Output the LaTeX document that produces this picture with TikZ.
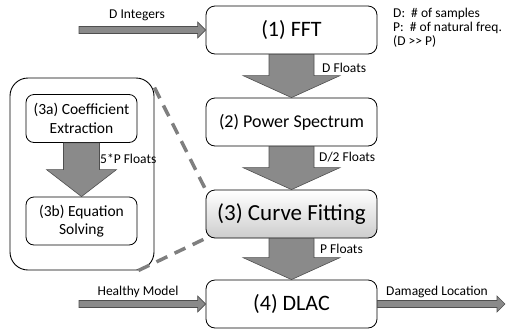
\documentclass[tikz,border=0pt]{standalone}
\usepackage{fontspec}
\setmainfont{Carlito}
\usepackage{tikz}
\usetikzlibrary{calc}
\definecolor{BlockGray}{HTML}{8A8A8A}
\definecolor{EdgeGray}{HTML}{4F4F4F}
\definecolor{DashGray}{HTML}{7F7F7F}
\definecolor{ShadeGray}{HTML}{CDCDCD}

\newcommand{\fatdown}[5]{%
  \draw[flow] ($(#1.south)+(-#3,0)$) -- ($(#2.north)+(-#3,-#5)$) -- ($(#2.north)+(-#4,-#5)$)
    -- (#2.north) -- ($(#2.north)+(#4,-#5)$) -- ($(#2.north)+(#3,-#5)$) -- ($(#1.south)+(#3,0)$) -- cycle;}
\newcommand{\fatright}[2]{%
  \draw[flow] ($(#1)+(0,-3.5)$) -- ($(#2)+(-8,-3.5)$) -- ($(#2)+(-8,-8)$)
    -- (#2) -- ($(#2)+(-8,8)$) -- ($(#2)+(-8,3.5)$) -- ($(#1)+(0,3.5)$) -- cycle;}

\begin{document}
\begin{tikzpicture}[
    x=1pt, y=-1pt,
    stage/.style={draw=black,fill=white,line width=0.8pt,rounded corners=9pt,minimum width=171pt,minimum height=48pt,font=\fontsize{22}{26}\selectfont},
    substage/.style={draw=black,fill=white,line width=0.8pt,rounded corners=8pt,minimum width=111pt,minimum height=48pt,align=center,font=\fontsize{15.5}{18.5}\selectfont},
    group/.style={draw=black,line width=0.9pt,rounded corners=18pt,minimum width=144pt,minimum height=192pt},
    tag/.style={font=\fontsize{13.5}{14}\selectfont,inner sep=0pt},
    flow/.style={draw=EdgeGray,fill=BlockGray,line width=0.6pt},
    link/.style={draw=DashGray,line width=3.5pt,dash pattern=on 12pt off 8pt}
  ]
  \useasboundingbox (0,0) rectangle (511,330);

  \node[stage] (fft) at (291.5,30) {(1) FFT};
  \node[stage,font=\fontsize{18}{22}\selectfont] (spec) at (291.5,122) {(2) Power Spectrum};
  \node[stage,top color=white,bottom color=ShadeGray,font=\fontsize{23}{27}\selectfont] (fit) at (291.5,214) {(3) Curve Fitting};
  \node[stage] (dlac) at (291.5,304) {(4) DLAC};

  \node[group] (split) at (82,174) {};
  \node[substage] (coef) at (81.5,118.5) {(3a) Coefficient\\Extraction};
  \node[substage] (solve) at (81.5,221) {(3b) Equation\\Solving};

  \draw[link] ([yshift=-10pt]split.north east) -- (fit.north west);
  \draw[link] ([xshift=-16pt]split.south east) -- (fit.south west);

  \fatdown{fft}{spec}{22.5}{48.5}{22}
  \fatdown{spec}{fit}{22.5}{48.5}{22}
  \fatdown{fit}{dlac}{22.5}{48.5}{22}
  \fatdown{coef}{solve}{18}{35}{27}

  \coordinate (din) at (79,30);
  \coordinate (hin) at (79,304);
  \coordinate (dout) at (505,304);
  \fatright{din}{fft.west}
  \fatright{hin}{dlac.west}
  \fatright{dlac.east}{dout}

  \node[tag] (dint) at (137,15) {D Integers};
  \node[tag] (hmod) at (138,292) {Healthy Model};
  \node[tag] (dloc) at (437,292) {Damaged Location};
  \node[tag,anchor=west] (dflt) at (322,68) {D Floats};
  \node[tag,anchor=west] (hflt) at (319,157) {D/2 Floats};
  \node[tag,anchor=west] (pflt) at (320,249) {P Floats};
  \node[tag,anchor=west] (cflt) at (100,159) {5*P Floats};
  \node[tag,anchor=north west,align=left] (key) at (393,8) {D:\ \ \# of samples\\P:\ \ \# of natural freq.\\(D >{}> P)};
\end{tikzpicture}
\end{document}
